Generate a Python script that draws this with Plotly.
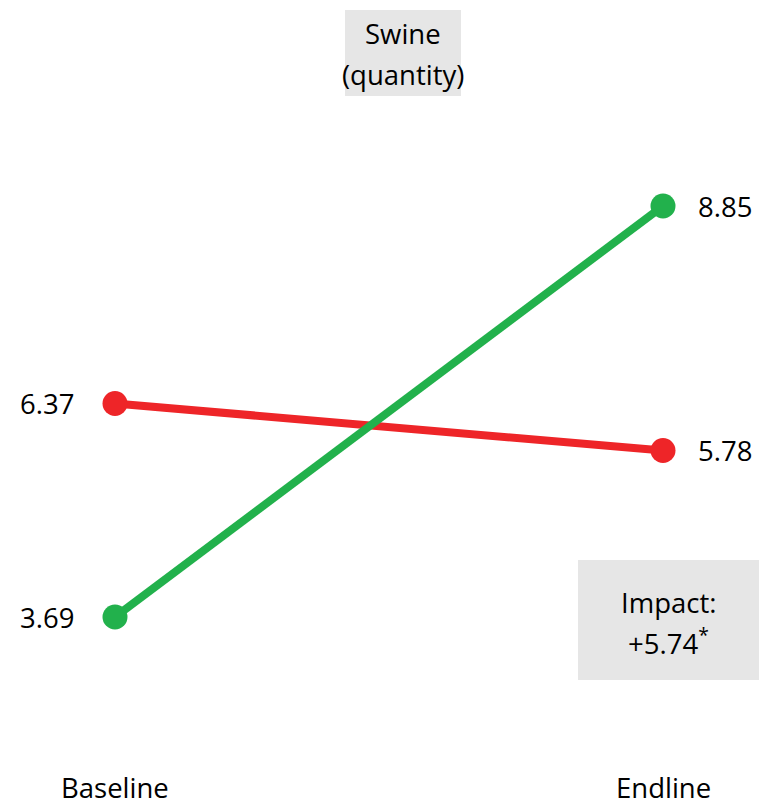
import plotly.graph_objects as go

categories = ["Baseline", "Endline"]
treatment = [3.69, 8.85]   # green
control = [6.37, 5.78]     # red
title_lines = ["Swine", "(quantity)"]
impact_lines = ["Impact:", "+5.74<sup>*</sup>"]

W, H = 760, 807
GREEN = "#22B14C"
RED = "#EE2528"
FONT = "'Open Sans', 'Noto Sans', sans-serif"
FS = 27.5

fig = go.Figure()
xs = [0, 1]
for vals, col in [(control, RED), (treatment, GREEN)]:
    fig.add_trace(go.Scatter(
        x=xs, y=vals, mode="lines+markers",
        line=dict(color=col, width=8),
        marker=dict(color=col, size=25),
        hoverinfo="skip", showlegend=False))

font = dict(size=FS, color="black", family=FONT)

# value labels
for vals in (control, treatment):
    fig.add_annotation(x=0, y=vals[0], text=f"{vals[0]:.2f}", showarrow=False,
                       xanchor="right", xshift=-39, font=font)
    fig.add_annotation(x=1, y=vals[1], text=f"{vals[1]:.2f}", showarrow=False,
                       xanchor="left", xshift=33, font=font)

# category labels (anchored to the bottom edge so they stay inside the page)
for i, c in enumerate(categories):
    fig.add_annotation(x=i, y=0, yref="paper", text=c, showarrow=False,
                       xanchor="center", yanchor="bottom", borderpad=0, font=font)

# title box
fig.add_shape(type="rect", xref="paper", yref="paper",
              x0=345 / W, x1=461 / W, y0=1 - 96 / H, y1=1 - 10 / H,
              fillcolor="#E6E6E6", line=dict(width=0), layer="below")
for t, yc in zip(title_lines, [34, 74]):
    fig.add_annotation(xref="paper", yref="paper", x=403 / W, y=1 - yc / H, text=t,
                       showarrow=False, xanchor="center", yanchor="middle", font=font)

# impact box
fig.add_shape(type="rect", xref="paper", yref="paper",
              x0=578 / W, x1=759 / W, y0=1 - 680 / H, y1=1 - 560 / H,
              fillcolor="#E6E6E6", line=dict(width=0), layer="below")
for t, yc in zip(impact_lines, [602, 641]):
    fig.add_annotation(xref="paper", yref="paper", x=668 / W, y=1 - yc / H, text=t,
                       showarrow=False, xanchor="center", yanchor="middle", font=font)

px_per_x = 663 - 115
px_per_y = (617 - 206) / (treatment[1] - treatment[0])
fig.update_xaxes(visible=False, range=[-115 / px_per_x, 1 + (W - 663) / px_per_x])
fig.update_yaxes(visible=False, range=[treatment[0] - (H - 617) / px_per_y,
                                       treatment[1] + 206 / px_per_y])
fig.update_layout(width=W, height=H, margin=dict(l=0, r=0, t=0, b=0),
                  paper_bgcolor="white", plot_bgcolor="white")
fig.write_html("out.html")
